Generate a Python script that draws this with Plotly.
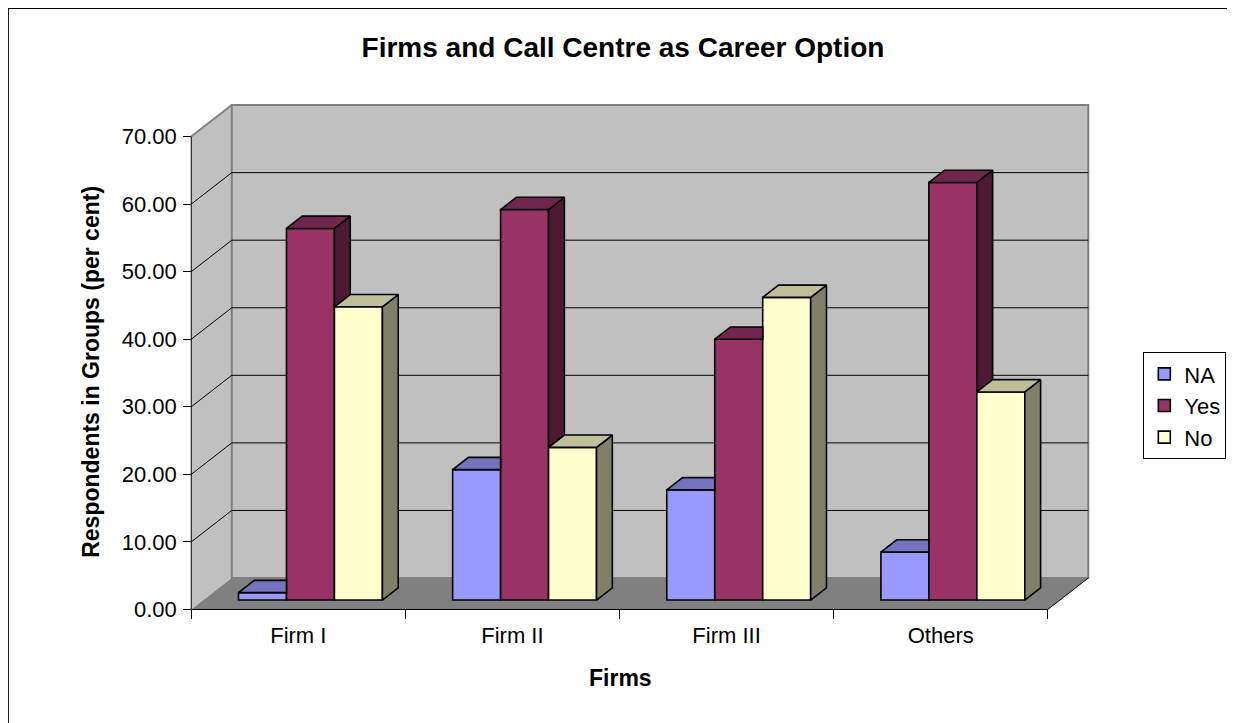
import plotly.graph_objects as go

# ---------------- data ----------------
categories = ["Firm I", "Firm II", "Firm III", "Others"]
series_names = ["NA", "Yes", "No"]
na_values = [1.1, 19.3, 16.3, 7.1]
yes_values = [55.0, 57.8, 38.6, 61.8]
no_values = [43.4, 22.6, 44.8, 30.8]
y_tick_values = [0, 10, 20, 30, 40, 50, 60, 70]

front_colors = ["#9999FF", "#993366", "#FFFFCC"]
top_colors = ["#7373BF", "#73264D", "#BFBF99"]
side_colors = ["#4D4D80", "#4D1A33", "#808066"]

series_values = [na_values, yes_values, no_values]

# ---------------- geometry (pseudo 3-D, Excel style) ----------------
W, H = 1235, 723
OFF = 8.0                            # page body margin offset
CAT_PX, VAL_PX = 214.0, 6.76         # pixels per category / per value unit
X0_PX, Y0_PX = 191.5 - OFF, 609.5 - OFF   # figure pixel of (x=0, y=0), front plane
DXC = 40.5 / CAT_PX                  # full depth shift in x data units
DYV = 31.5 / VAL_PX                  # full depth shift in y data units
FD, BD = 0.30, 0.39                  # bar front depth and bar depth (fractions)
BW = 0.224                           # bar width in category units
YMAX = y_tick_values[-1]
NCAT = len(categories)

XR = [-0.3, NCAT + 0.3]
YR = [-2.0, 76.0]
ml = X0_PX + XR[0] * CAT_PX
mr = W - (X0_PX + XR[1] * CAT_PX)
mb = H - (Y0_PX - YR[0] * VAL_PX)
mt = Y0_PX - YR[1] * VAL_PX
PW = W - ml - mr
PH = H - mt - mb


def pxx(p):
    """page x pixel -> paper"""
    return (p - OFF - ml) / PW


def pxy(p):
    """page y pixel -> paper"""
    return (H - mb - (p - OFF)) / PH


fig = go.Figure()

# ---------------- walls, floor, gridlines (shapes under the traces) ----------------
shapes = []


def poly(pts, fill, lc=None, lw=0):
    path = "M " + " L ".join(f"{x},{y}" for x, y in pts) + " Z"
    return dict(type="path", path=path, xref="x", yref="y", fillcolor=fill,
                line=dict(color=lc if lc else fill, width=lw), layer="below")


def seg(x0, y0, x1, y1, color, width):
    return dict(type="line", x0=x0, y0=y0, x1=x1, y1=y1, xref="x", yref="y",
                line=dict(color=color, width=width), layer="below")


# left side wall
shapes.append(poly([(0, 0), (DXC, DYV), (DXC, YMAX + DYV), (0, YMAX)], "#C0C0C0"))
# back wall
shapes.append(dict(type="rect", x0=DXC, y0=DYV, x1=NCAT + DXC, y1=YMAX + DYV,
                   xref="x", yref="y", fillcolor="#C0C0C0",
                   line=dict(color="#808080", width=2), layer="below"))
# floor
shapes.append(poly([(0, 0), (NCAT, 0), (NCAT + DXC, DYV), (DXC, DYV)], "#808080"))
# gridlines
for v in y_tick_values[1:-1]:
    shapes.append(seg(DXC, v + DYV, NCAT + DXC, v + DYV, "black", 1))
    shapes.append(seg(0, v, DXC, v + DYV, "black", 1))
shapes.append(seg(0, YMAX, DXC, YMAX + DYV, "#808080", 2))
# axis edges
shapes.append(seg(0, 0, 0, YMAX, "black", 1))
shapes.append(seg(0, 0, NCAT, 0, "black", 1))
shapes.append(seg(NCAT, 0, NCAT + DXC, DYV, "black", 1))
# outer chart border
shapes.append(dict(type="rect", xref="paper", yref="paper",
                   x0=pxx(8.5), x1=pxx(1234), y0=pxy(740), y1=pxy(8.0),
                   line=dict(color="black", width=1.5), fillcolor="rgba(0,0,0,0)",
                   layer="below"))

# ---------------- bar front faces ----------------
xc = [i + 0.5 for i in range(NCAT)]
for j, (name, vals) in enumerate(zip(series_names, series_values)):
    fig.add_trace(go.Bar(
        x=xc, y=vals, base=FD * DYV, width=BW,
        offset=(j - 1.5) * BW + FD * DXC,
        name=name, legendgroup=name,
        marker=dict(color=front_colors[j], line=dict(color="black", width=1.6)),
        hoverinfo="skip",
    ))

# ---------------- bar top and side faces ----------------
bdx, bdy = BD * DXC, BD * DYV
base = FD * DYV
for i in range(NCAT):
    for j in range(3):
        xl = xc[i] + (j - 1.5) * BW + FD * DXC
        xr = xl + BW
        v = series_values[j][i] + base
        nv = series_values[j + 1][i] + base if j < 2 else None
        # side face (only the part not hidden by the neighbouring bar)
        side = None
        if nv is None:
            side = [(xr, base), (xr + bdx, base + bdy), (xr + bdx, v + bdy), (xr, v)]
        elif nv < v:
            side = [(xr, nv), (xr + bdx, nv + bdy), (xr + bdx, v + bdy), (xr, v)]
        if side:
            fig.add_trace(go.Scatter(
                x=[p[0] for p in side] + [side[0][0]],
                y=[p[1] for p in side] + [side[0][1]],
                mode="lines", fill="toself", fillcolor=side_colors[j],
                line=dict(color="black", width=1.6), showlegend=False,
                hoverinfo="skip"))
        # top face
        if nv is not None and nv > v:
            top = [(xl, v), (xr, v), (xr, v + bdy), (xl + bdx, v + bdy)]
        else:
            top = [(xl, v), (xr, v), (xr + bdx, v + bdy), (xl + bdx, v + bdy)]
        fig.add_trace(go.Scatter(
            x=[p[0] for p in top] + [top[0][0]],
            y=[p[1] for p in top] + [top[0][1]],
            mode="lines", fill="toself", fillcolor=top_colors[j],
            line=dict(color="black", width=1.6), showlegend=False,
            hoverinfo="skip"))

FONT = "Liberation Sans, Arial, sans-serif"

fig.update_layout(
    width=W, height=H,
    margin=dict(l=ml, r=mr, t=mt, b=mb, pad=0),
    paper_bgcolor="white", plot_bgcolor="white",
    barmode="overlay",
    shapes=shapes,
    font=dict(family=FONT, color="black", size=22),
    title=dict(text="<b>Firms and Call Centre as Career Option</b>",
               x=(623 - OFF) / W, xref="container", xanchor="center",
               y=1 - (47 - OFF) / H, yref="container", yanchor="middle",
               font=dict(size=28, family=FONT, color="black")),
    xaxis=dict(range=XR, anchor="free", position=pxy(609.5),
               tickvals=xc, ticktext=categories, ticks="",
               showgrid=False, zeroline=False, showline=False,
               tickfont=dict(size=22), ticklabelstandoff=11,
               minor=dict(tickvals=list(range(NCAT + 1)), ticks="outside",
                          ticklen=9, tickcolor="black", tickwidth=1,
                          showgrid=False)),
    yaxis=dict(range=YR, anchor="free", position=pxx(191.5),
               tickvals=y_tick_values, tickformat=".2f",
               ticks="outside", ticklen=8, tickcolor="black", tickwidth=1,
               showgrid=False, zeroline=False, showline=False,
               tickfont=dict(size=22), ticklabelstandoff=2),
    legend=dict(x=pxx(1143), y=pxy(352), xanchor="left", yanchor="top",
                bgcolor="white", bordercolor="black", borderwidth=1,
                font=dict(size=22, family=FONT), traceorder="normal",
                tracegroupgap=5),
    annotations=[
        dict(text="<b>Respondents in Groups (per cent)</b>", textangle=-90,
             xref="paper", yref="paper", x=pxx(91), y=pxy(372),
             xanchor="center", yanchor="middle", showarrow=False,
             font=dict(size=23, family=FONT)),
        dict(text="<b>Firms</b>", xref="paper", yref="paper",
             x=pxx(620), y=pxy(678), xanchor="center", yanchor="middle",
             showarrow=False, font=dict(size=23, family=FONT)),
    ],
)

fig.write_html("out.html")
